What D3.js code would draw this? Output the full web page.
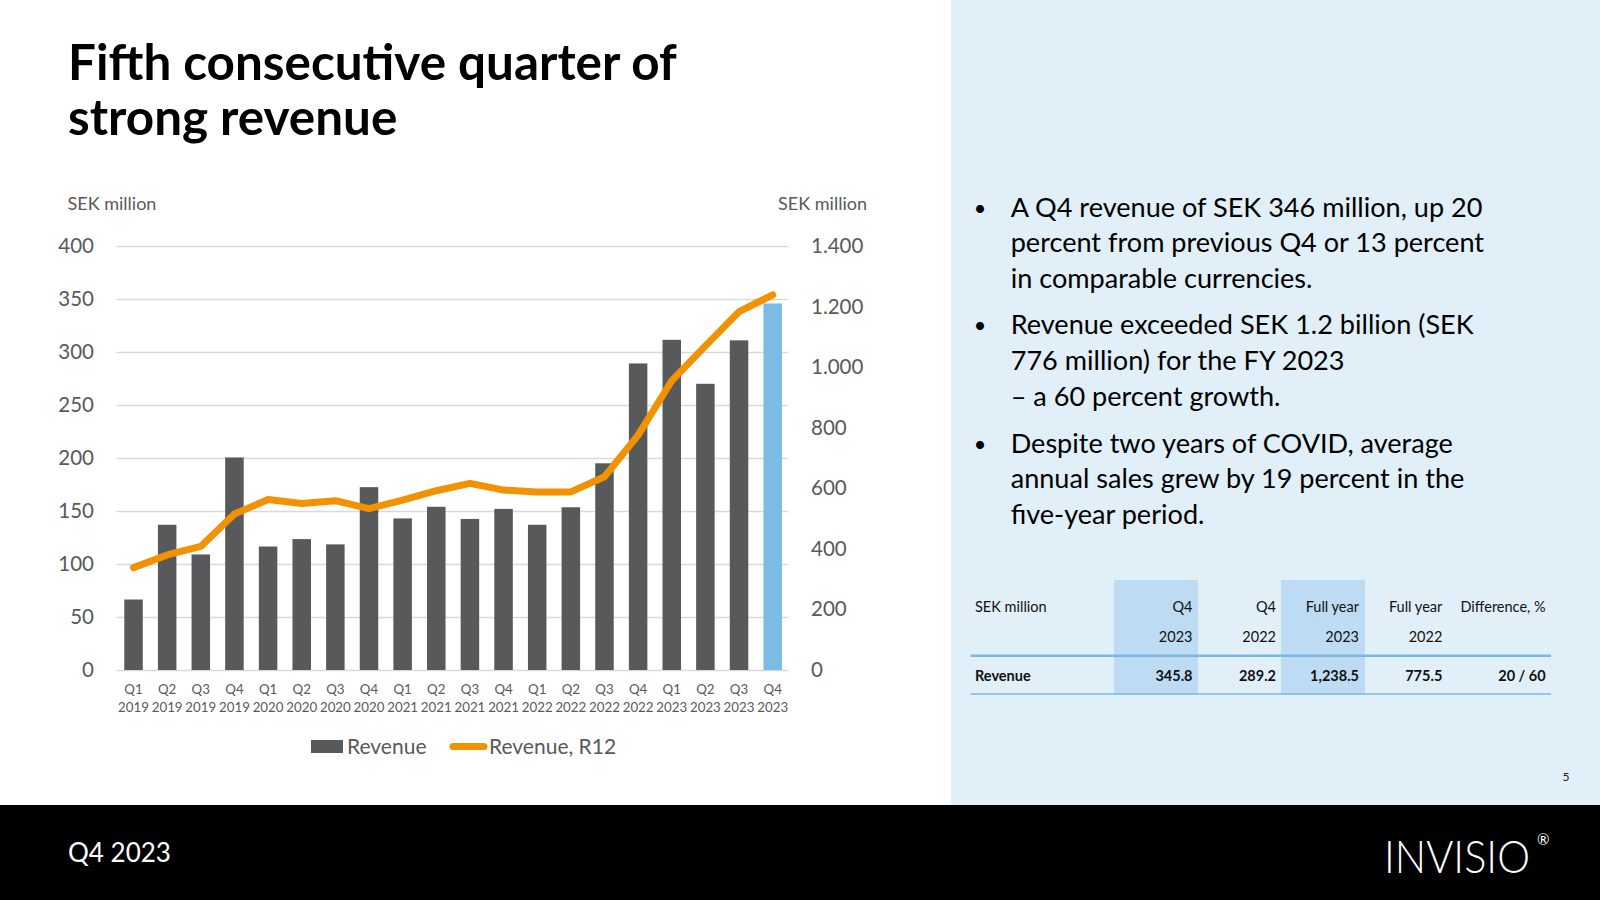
<!DOCTYPE html>
<html><head><meta charset="utf-8">
<script src="https://cdn.jsdelivr.net/npm/d3@7/dist/d3.min.js"></script>
<style>
body{margin:0;background:#fff;overflow:hidden}
svg{display:block}
text{font-family:Lato,"Open Sans",sans-serif}
</style>
</head><body>
<svg id="c" width="1600" height="900"></svg>
<script>
// ---------- data ----------
const quarters = ["Q1","Q2","Q3","Q4","Q1","Q2","Q3","Q4","Q1","Q2","Q3","Q4","Q1","Q2","Q3","Q4","Q1","Q2","Q3","Q4"];
const years    = ["2019","2019","2019","2019","2020","2020","2020","2020","2021","2021","2021","2021","2022","2022","2022","2022","2023","2023","2023","2023"];
const revenue    = [66.5,137,109,200.5,116.5,123.5,118.5,172.5,143,154,142.5,152,137,153.5,195,289.2,311.5,270,311,345.8];
const revenueR12 = [338,380,408,515,563,550,559,533,561,592,616,594,588,588,638,775.5,955,1070,1183,1238.5];
const leftTicks  = [0,50,100,150,200,250,300,350,400];
const rightTicks = [0,200,400,600,800,1000,1200,1400];
const seriesNames = ["Revenue","Revenue, R12"];
const axisTitle = "SEK million";

const titleLines = ["Fifth consecutive quarter of","strong revenue"];
const bullets = [
  ["A Q4 revenue of SEK 346 million, up 20","percent from previous Q4 or 13 percent","in comparable currencies."],
  ["Revenue exceeded SEK 1.2 billion (SEK","776 million) for the FY 2023","– a 60 percent growth."],
  ["Despite two years of COVID, average","annual sales grew by 19 percent in the","five-year period."]
];
const tableHead1 = ["SEK million","Q4","Q4","Full year","Full year","Difference, %"];
const tableHead2 = ["","2023","2022","2023","2022",""];
const tableRow   = ["Revenue","345.8","289.2","1,238.5","775.5","20 / 60"];
const highlightCols = [1,3];
const footerLeft = "Q4 2023";
const logoText = "INVISIO";
const pageNo = "5";

// ---------- layout ----------
const svg = d3.select("#c");
const W = 1600, H = 900;
const panelX = 951, footerY = 805;

svg.append("rect").attr("x",0).attr("y",0).attr("width",W).attr("height",H).attr("fill","#fff");
svg.append("rect").attr("x",panelX).attr("y",0).attr("width",W-panelX).attr("height",footerY).attr("fill","#e1eff9");
svg.append("rect").attr("x",0).attr("y",footerY).attr("width",W).attr("height",H-footerY).attr("fill","#000");

function fitWidth(sel, target){
  const w = sel.node().getComputedTextLength();
  const fs = parseFloat(sel.attr("font-size"));
  return fs*target/w;
}

// title
const tl = svg.append("g");
const t0 = tl.append("text").attr("x",68).attr("y",79.5).attr("font-size",46).attr("font-weight",700).attr("fill","#000").text(titleLines[0]);
const tfs = fitWidth(t0, 609);
t0.attr("font-size",tfs);
tl.append("text").attr("x",68).attr("y",135).attr("font-size",tfs).attr("font-weight",700).attr("fill","#000").text(titleLines[1]);

// ---------- chart ----------
const plot = {left:116.7, right:789.5, top:246, bottom:670};
const x = d3.scaleBand().domain(d3.range(quarters.length)).range([plot.left, plot.right]).paddingInner(0.45).paddingOuter(0.225);
const yL = d3.scaleLinear().domain([0,400]).range([plot.bottom, plot.top]);
const yR = d3.scaleLinear().domain([0,1400]).range([plot.bottom, plot.top]);
const locale = d3.formatLocale({decimal:",",thousands:".",grouping:[3],currency:["",""]});
const fmtR = locale.format(",");

// gridlines
const grid = svg.append("g").attr("transform",`translate(${plot.left},0)`)
  .call(d3.axisLeft(yL).tickValues(leftTicks).tickSize(-(788-plot.left)).tickFormat(""));
grid.select(".domain").remove();
grid.selectAll("line").attr("stroke","#d9d9d9").attr("stroke-width",1.3);

// left axis labels
const ax = svg.append("g").attr("transform",`translate(94,0)`)
  .call(d3.axisLeft(yL).tickValues(leftTicks).tickSize(0).tickPadding(0));
ax.select(".domain").remove();
ax.selectAll("text").attr("font-size",20.5).attr("fill","#595959").attr("font-family","Lato");

// right axis labels
const axr = svg.append("g").attr("transform",`translate(811,0)`)
  .call(d3.axisRight(yR).tickValues(rightTicks).tickSize(0).tickPadding(0).tickFormat(fmtR));
axr.select(".domain").remove();
axr.selectAll("text").attr("font-size",20.5).attr("fill","#595959").attr("font-family","Lato");

// axis titles
svg.append("text").attr("x",67.5).attr("y",210).attr("font-size",18).attr("fill","#595959").text(axisTitle);
svg.append("text").attr("x",867).attr("y",210).attr("text-anchor","end").attr("font-size",18).attr("fill","#595959").text(axisTitle);

// bars
svg.append("g").selectAll("rect").data(revenue).join("rect")
  .attr("x",(d,i)=>x(i)).attr("width",x.bandwidth())
  .attr("y",d=>yL(d)).attr("height",d=>yL(0)-yL(d))
  .attr("fill",(d,i)=> i===revenue.length-1 ? "#7abce6" : "#58595b");

// line
const line = d3.line().x((d,i)=>x(i)+x.bandwidth()/2).y(d=>yR(d));
svg.append("path").datum(revenueR12).attr("d",line).attr("fill","none")
  .attr("stroke","#f29200").attr("stroke-width",7).attr("stroke-linejoin","round").attr("stroke-linecap","round");

// x labels
const xl = svg.append("g");
quarters.forEach((q,i)=>{
  const cx = x(i)+x.bandwidth()/2;
  xl.append("text").attr("x",cx).attr("y",694).attr("text-anchor","middle").attr("font-size",13.3).attr("fill","#595959").text(q);
  xl.append("text").attr("x",cx).attr("y",712).attr("text-anchor","middle").attr("font-size",13.3).attr("fill","#595959").text(years[i]);
});

// legend
const lg = svg.append("g");
lg.append("rect").attr("x",311).attr("y",740).attr("width",32).attr("height",13).attr("fill","#58595b");
lg.append("text").attr("x",347).attr("y",753.5).attr("font-size",21).attr("fill","#595959").text(seriesNames[0]);
lg.append("line").attr("x1",453).attr("x2",484).attr("y1",746.5).attr("y2",746.5).attr("stroke","#f29200").attr("stroke-width",7).attr("stroke-linecap","round");
lg.append("text").attr("x",489).attr("y",753.5).attr("font-size",21).attr("fill","#595959").text(seriesNames[1]);

// ---------- bullets ----------
const bg = svg.append("g");
const bStarts = [216.7, 334.4, 452.7];
const lh = 35.7;
const probe = bg.append("text").attr("x",1010.7).attr("y",bStarts[0]).attr("font-size",26).attr("fill","#000").text(bullets[0][0]);
const bfs = fitWidth(probe, 472);
probe.remove();
bullets.forEach((lines,gi)=>{
  bg.append("text").attr("x",980).attr("y",bStarts[gi]-1).attr("text-anchor","middle").attr("font-size",bfs*0.8).attr("fill","#000").text("•");
  lines.forEach((ln,li)=>{
    bg.append("text").attr("x",1010.7).attr("y",bStarts[gi]+li*lh).attr("font-size",bfs).attr("fill","#000").text(ln);
  });
});

// ---------- table ----------
const colRight = [null,1192.5,1276,1359,1442.3,1545.7];
const colBand = [[970,1114],[1114,1198],[1198,1281],[1281,1365],[1365,1448],[1448,1551]];
const tg = svg.append("g");
highlightCols.forEach(c=>{
  tg.append("rect").attr("x",colBand[c][0]).attr("y",580).attr("width",colBand[c][1]-colBand[c][0]).attr("height",114).attr("fill","#bddcf3");
});
tg.append("line").attr("x1",970.5).attr("x2",1551).attr("y1",655.8).attr("y2",655.8).attr("stroke","#7ab8e4").attr("stroke-width",2.5);
tg.append("line").attr("x1",970.5).attr("x2",1551).attr("y1",694).attr("y2",694).attr("stroke","#7ab8e4").attr("stroke-width",1.3);
const tfsz = 14.5;
[[tableHead1,611.7,400],[tableHead2,641.7,400],[tableRow,681,700]].forEach(([row,y,wt])=>{
  row.forEach((v,c)=>{
    if(!v) return;
    const t = tg.append("text").attr("y",y).attr("font-size",tfsz).attr("font-weight",wt).attr("fill","#111").text(v);
    if(c===0) t.attr("x",975); else t.attr("x",colRight[c]).attr("text-anchor","end");
  });
});

// page number
svg.append("text").attr("x",1566).attr("y",780.5).attr("text-anchor","middle").attr("font-size",12).attr("fill","#222").text(pageNo);

// ---------- footer ----------
svg.append("text").attr("x",68).attr("y",862).attr("font-size",26).attr("fill","#fff").text(footerLeft);
const logo = svg.append("text").attr("x",0).attr("y",0).attr("font-size",46).attr("font-weight",300)
  .attr("font-family","Roboto").attr("fill","#fff").text(logoText);
const lw = logo.node().getComputedTextLength();
logo.attr("transform",`translate(1384,872.7) scale(${146/lw},1)`);
svg.append("text").attr("x",1537).attr("y",845).attr("font-size",15).attr("font-family","Roboto").attr("fill","#fff").text("®");
</script>
</body></html>
